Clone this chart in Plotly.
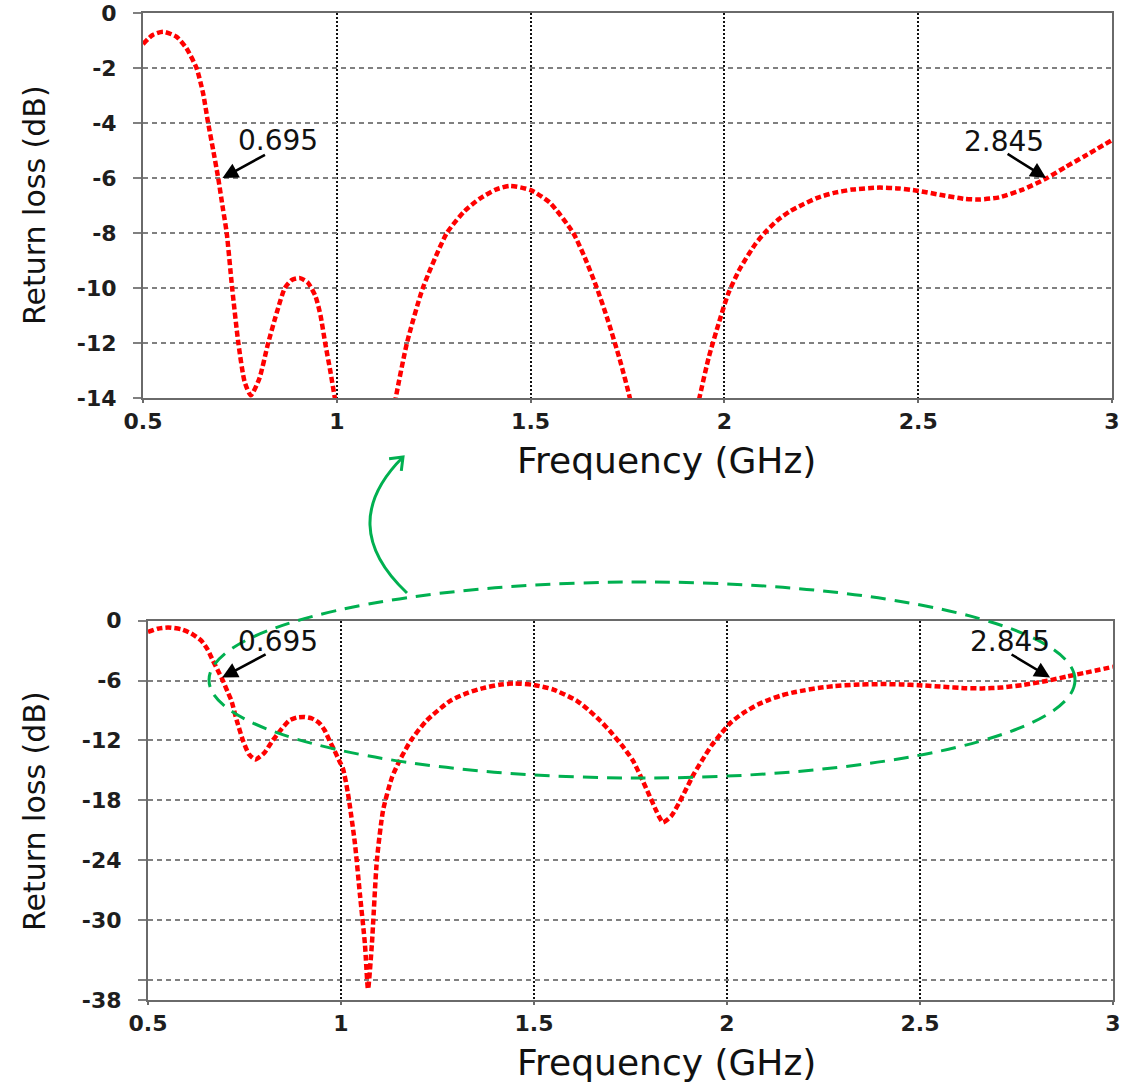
import math
import plotly.graph_objects as go

# ---------------- data ----------------
freq_ghz = [0.50, 0.525, 0.552, 0.586, 0.612, 0.638, 0.655, 0.668, 0.681, 0.694, 0.706,
            0.716, 0.730, 0.746, 0.762, 0.778, 0.80, 0.823, 0.845, 0.866, 0.885, 0.905, 0.925,
            0.945, 0.958, 0.970, 0.983, 0.995, 1.005, 1.018, 1.036, 1.049, 1.062, 1.070, 1.080,
            1.093, 1.109, 1.132, 1.152, 1.181, 1.222, 1.284, 1.33, 1.369, 1.41, 1.447, 1.50,
            1.55, 1.61, 1.64, 1.671, 1.70, 1.73, 1.756, 1.78, 1.80, 1.815, 1.825, 1.834,
            1.855, 1.875, 1.895, 1.915, 1.937, 1.96, 1.985, 2.01, 2.04, 2.08, 2.11, 2.14,
            2.17, 2.20, 2.24, 2.28, 2.33, 2.40, 2.45, 2.497, 2.56, 2.62, 2.66, 2.71, 2.77,
            2.83, 2.88, 2.93, 3.00]
return_loss_db = [-1.13, -0.8, -0.68, -0.86, -1.28, -2.0, -2.92, -4.0, -4.98, -6.0, -7.1,
                  -8.0, -10.0, -12.0, -13.4, -13.9, -13.3, -12.0, -10.9, -10.0, -9.7, -9.64, -9.8,
                  -10.3, -11.0, -12.0, -13.0, -14.0, -14.8, -17.3, -22.3, -27.4, -32.4, -36.9, -32.4,
                  -24.0, -19.0, -15.7, -14.0, -12.0, -10.0, -8.0, -7.2, -6.75, -6.42, -6.29, -6.44,
                  -6.9, -8.0, -8.9, -10.0, -11.2, -12.6, -14.0, -15.9, -17.6, -18.9, -19.7, -20.2,
                  -19.6, -18.3, -16.8, -15.3, -13.9, -12.5, -11.3, -10.2, -9.3, -8.4, -7.9, -7.5,
                  -7.2, -6.98, -6.72, -6.55, -6.42, -6.35, -6.38, -6.46, -6.62, -6.76, -6.78, -6.7, -6.42,
                  -6.02, -5.6, -5.2, -4.62]

x_ticks = [0.5, 1, 1.5, 2, 2.5, 3]
x_ticktext = ["0.5", "1", "1.5", "2", "2.5", "3"]
top_y_ticks = [0, -2, -4, -6, -8, -10, -12, -14]
top_y_ticktext = ["0", "-2", "-4", "-6", "-8", "-10", "-12", "-14"]
bot_y_ticks = [0, -6, -12, -18, -24, -30, -36, -38]
bot_y_ticktext = ["0", "-6", "-12", "-18", "-24", "-30", "", "-38"]

marker_labels = ["0.695", "2.845"]

# ---------------- layout helpers ----------------
W, H = 1131, 1088
def PX(px):
    return px / W
def PY(py):
    return 1 - py / H

RED = "#ff0000"
GREEN = "#00b050"
tickfont = dict(family="DejaVu Sans", size=22, color="#1e1e1e", weight="bold")

fig = go.Figure()
for xa, ya in (("x", "y"), ("x2", "y2")):
    fig.add_trace(go.Scatter(
        x=freq_ghz, y=return_loss_db, mode="lines", xaxis=xa, yaxis=ya,
        line=dict(color=RED, width=4.5, dash="6px,3px", shape="spline", smoothing=0.6),
        showlegend=False, hoverinfo="skip"))

common_x = dict(range=[0.5, 3], tickvals=x_ticks, ticktext=x_ticktext, tickfont=tickfont,
                showgrid=True, gridcolor="#111111", gridwidth=2, griddash="2px,2px",
                zeroline=False, showline=True, mirror=True, linecolor="#6a6a6a", linewidth=2,
                ticks="outside", ticklen=3, tickcolor="#6a6a6a", tickwidth=2,
                ticklabelstandoff=0, fixedrange=True, automargin=False)
common_y = dict(tickfont=tickfont, showgrid=True, gridcolor="#808080", gridwidth=1.5,
                griddash="5px,4px", zeroline=False, showline=True, mirror=True,
                linecolor="#6a6a6a", linewidth=2, ticks="outside", ticklen=8,
                tickcolor="#808080", tickwidth=1.5, ticklabelstandoff=12, fixedrange=True,
                automargin=False)

fig.update_layout(
    width=W, height=H, autosize=False,
    margin=dict(l=0, r=0, t=0, b=0, pad=0, autoexpand=False),
    paper_bgcolor="white", plot_bgcolor="white",
    xaxis=dict(domain=[PX(143), PX(1112)], anchor="y", **common_x),
    yaxis=dict(domain=[PY(398), PY(13)], anchor="x", range=[-14, 0],
               tickvals=top_y_ticks, ticktext=top_y_ticktext, **common_y),
    xaxis2=dict(domain=[PX(148), PX(1113)], anchor="y2", **common_x),
    yaxis2=dict(domain=[PY(1000), PY(620.7)], anchor="x2", range=[-38, 0],
                tickvals=bot_y_ticks, ticktext=bot_y_ticktext, **common_y),
)

# ---------------- axis titles ----------------
title_font = dict(family="DejaVu Sans", size=36, color="#111111")
ytitle_font = dict(family="DejaVu Sans", size=30, color="#111111")
for yc in (205, 811):
    fig.add_annotation(text="Return loss (dB)", xref="paper", yref="paper",
                       x=PX(34), y=PY(yc), textangle=-90, showarrow=False,
                       xanchor="center", yanchor="middle", font=ytitle_font)
for yc in (460, 1062):
    fig.add_annotation(text="Frequency (GHz)", xref="paper", yref="paper",
                       x=PX(666), y=PY(yc), showarrow=False,
                       xanchor="center", yanchor="middle", font=title_font)

# ---------------- marker annotations ----------------
label_font = dict(family="DejaVu Sans", size=28, color="#111111")
arrow_specs = [
    # (xref, yref, head x, head y, ax, ay, label, label px x, label px y)
    ("x", "y", 0.705, -6.0, 44, -24, marker_labels[0], 278, 140),
    ("x", "y", 2.83, -6.0, -40, -25, marker_labels[1], 1004, 141),
    ("x2", "y2", 0.692, -5.7, 45, -24, marker_labels[0], 278, 641),
    ("x2", "y2", 2.837, -5.7, -40, -24, marker_labels[1], 1010, 641),
]
for xr, yr, hx, hy, ax, ay, lab, lx, ly in arrow_specs:
    fig.add_annotation(x=hx, y=hy, xref=xr, yref=yr, ax=ax, ay=ay, text="",
                       showarrow=True, arrowhead=2, arrowsize=1.2, arrowwidth=2.6,
                       arrowcolor="black", standoff=0)
    fig.add_annotation(text=lab, xref="paper", yref="paper", x=PX(lx), y=PY(ly),
                       showarrow=False, xanchor="center", yanchor="middle", font=label_font)

# ---------------- green ellipse and curved arrow ----------------
fig.add_shape(type="circle", xref="paper", yref="paper",
              x0=PX(209), x1=PX(1075), y0=PY(778), y1=PY(582),
              line=dict(color=GREEN, width=3, dash="15px,9px"), layer="above")

p0 = (407, 593); c = (335, 525); p2 = (403, 457)
fig.add_shape(type="path", xref="paper", yref="paper",
              path=f"M {PX(p0[0])},{PY(p0[1])} Q {PX(c[0])},{PY(c[1])} {PX(p2[0])},{PY(p2[1])}",
              line=dict(color=GREEN, width=3))
# open arrowhead at p2
dx, dy = c[0] - p2[0], c[1] - p2[1]
n = math.hypot(dx, dy)
dx, dy = dx / n, dy / n
arms = []
for ang in (math.radians(38), math.radians(-38)):
    rx = dx * math.cos(ang) - dy * math.sin(ang)
    ry = dx * math.sin(ang) + dy * math.cos(ang)
    arms.append((p2[0] + 14 * rx, p2[1] + 14 * ry))
fig.add_shape(type="path", xref="paper", yref="paper",
              path=(f"M {PX(arms[0][0])},{PY(arms[0][1])} L {PX(p2[0])},{PY(p2[1])} "
                    f"L {PX(arms[1][0])},{PY(arms[1][1])}"),
              line=dict(color=GREEN, width=3))

fig.write_html("out.html")
